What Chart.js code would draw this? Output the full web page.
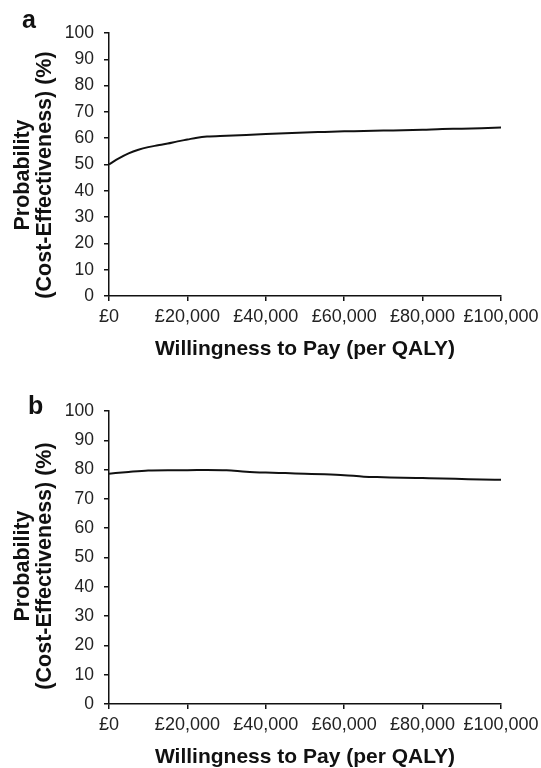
<!DOCTYPE html>
<html>
<head>
<meta charset="utf-8">
<script src="https://cdn.jsdelivr.net/npm/chart.js@4"></script>
<style>
  html, body { margin: 0; padding: 0; background: #fff; }
  body { width: 541px; height: 768px; position: relative; overflow: hidden; }
  .panel { position: absolute; left: 0; width: 541px; }
  #pa { top: 0; height: 380px; }
  #pb { top: 380px; height: 388px; }
</style>
</head>
<body>
<div class="panel" id="pa"><canvas id="ca"></canvas></div>
<div class="panel" id="pb"><canvas id="cb"></canvas></div>
<script>
// ---- data ----
const panelLetters = ['a', 'b'];
const yTitleLines = ['Probability', '(Cost-Effectiveness) (%)'];
const xTitle = 'Willingness to Pay (per QALY)';
const xTicks = [0, 20000, 40000, 60000, 80000, 100000];
const yTicks = [0, 10, 20, 30, 40, 50, 60, 70, 80, 90, 100];

const wtpA = [0, 2500, 5000, 7500, 10000, 12500, 15000, 17500, 20000, 22500, 25000, 30000, 35000, 40000, 45000, 50000, 55000, 60000, 65000, 70000, 75000, 80000, 85000, 90000, 95000, 100000];
const probA = [50.0, 52.3, 54.2, 55.6, 56.6, 57.3, 58.0, 58.8, 59.5, 60.2, 60.6, 60.9, 61.2, 61.6, 61.9, 62.2, 62.4, 62.6, 62.7, 62.9, 63.0, 63.2, 63.5, 63.6, 63.8, 64.1];

const wtpB = [0, 5000, 10000, 15000, 20000, 25000, 30000, 35000, 40000, 45000, 50000, 55000, 60000, 65000, 70000, 75000, 80000, 85000, 90000, 95000, 100000];
const probB = [78.6, 79.2, 79.7, 79.8, 79.8, 79.9, 79.8, 79.3, 79.0, 78.8, 78.6, 78.4, 78.1, 77.6, 77.4, 77.2, 77.1, 77.0, 76.8, 76.6, 76.5];

// ---- drawing ----
const FONT = '"Liberation Sans", Arial, Helvetica, sans-serif';

function makeChart(id, xs, ys, geo) {
  const pts = xs.map((x, i) => ({ x: x, y: ys[i] }));
  const decor = {
    id: 'decor',
    afterDraw(chart) {
      const ctx = chart.ctx;
      const area = chart.chartArea;
      ctx.save();
      ctx.fillStyle = '#111';
      // panel letter
      ctx.font = 'bold 25px ' + FONT;
      ctx.textAlign = 'left';
      ctx.textBaseline = 'alphabetic';
      ctx.fillText(geo.letter, geo.letterX, geo.letterY);
      // x title
      ctx.font = 'bold 21px ' + FONT;
      ctx.textAlign = 'center';
      ctx.textBaseline = 'middle';
      ctx.fillText(xTitle, (area.left + area.right) / 2, geo.xTitleY);
      // y title (rotated, two lines)
      ctx.font = 'bold 21.5px ' + FONT;
      ctx.textBaseline = 'alphabetic';
      ctx.translate(0, geo.yTitleCY);
      ctx.rotate(-Math.PI / 2);
      ctx.fillText(yTitleLines[0], 0, 28.5);
      ctx.fillText(yTitleLines[1], 0, 50.5);
      ctx.restore();
    }
  };
  return new Chart(document.getElementById(id), {
    type: 'line',
    data: {
      datasets: [{
        data: pts,
        borderColor: '#111',
        borderWidth: 2,
        pointRadius: 0,
        fill: false,
        cubicInterpolationMode: 'monotone'
      }]
    },
    options: {
      responsive: true,
      maintainAspectRatio: false,
      animation: false,
      devicePixelRatio: 1,
      layout: { padding: { left: 0, right: 40, top: geo.top, bottom: 0 } },
      plugins: { legend: { display: false }, tooltip: { enabled: false } },
      scales: {
        x: {
          type: 'linear',
          min: 0, max: 100000,
          afterBuildTicks(scale) { scale.ticks = xTicks.map(v => ({ value: v })); },
          ticks: {
            color: '#222',
            font: { family: FONT, size: 18 },
            padding: 5,
            maxRotation: 0,
            autoSkip: false,
            callback: v => '£' + v.toLocaleString('en-GB')
          },
          grid: { drawOnChartArea: false, drawTicks: true, tickLength: 5, color: '#111', lineWidth: 1.5 },
          border: { display: true, color: '#111', width: 1.5 },
          afterFit(scale) { scale.height = geo.xAxisH; scale.paddingRight = 0; scale.paddingLeft = 0; }
        },
        y: {
          min: 0, max: 100,
          afterBuildTicks(scale) { scale.ticks = yTicks.map(v => ({ value: v })); },
          ticks: {
            color: '#222',
            font: { family: FONT, size: 17.5 },
            padding: 10,
            autoSkip: false
          },
          grid: { drawOnChartArea: false, drawTicks: true, tickLength: 5, color: '#111', lineWidth: 1.5 },
          border: { display: true, color: '#111', width: 1.5 },
          afterFit(scale) { scale.width = 109; }
        }
      }
    },
    plugins: [decor]
  });
}

makeChart('ca', wtpA, probA, {
  letter: panelLetters[0], letterX: 22, letterY: 28,
  top: 33, xAxisH: 380 - 296, xTitleY: 349, yTitleCY: 175
});
makeChart('cb', wtpB, probB, {
  letter: panelLetters[1], letterX: 28, letterY: 414 - 380,
  top: 411 - 380, xAxisH: 388 - 324, xTitleY: 757 - 380, yTitleCY: 566 - 380
});
</script>
</body>
</html>
